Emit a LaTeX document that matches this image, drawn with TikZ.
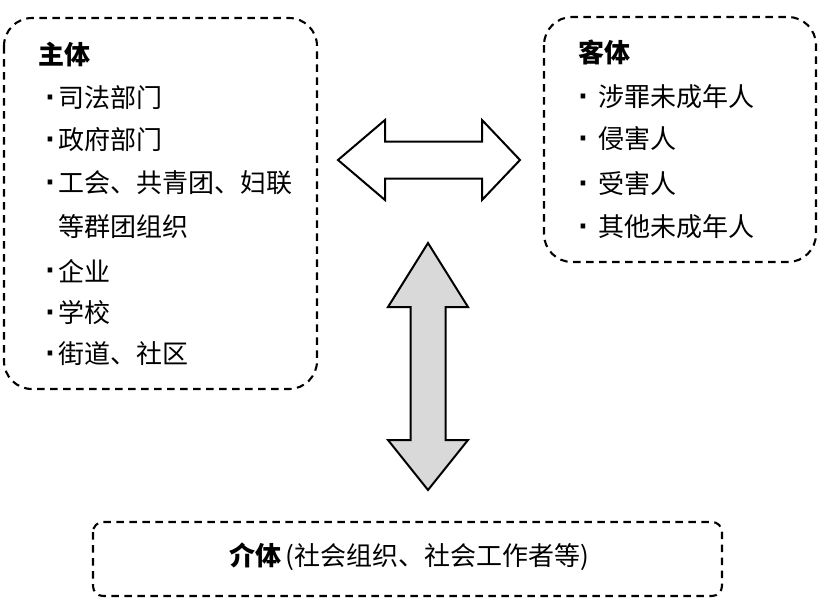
\documentclass[tikz,border=0pt]{standalone}
\usepackage{fontspec}
\newfontfamily\cjk{Noto Sans CJK SC}
\newfontfamily\dvs{DejaVu Sans}
\begin{document}
\begin{tikzpicture}[x=1pt,y=-1pt,
  dbox/.style={draw=black, line width=2.1pt, dash pattern=on 7.5pt off 5.5pt, rounded corners=28pt},
  head/.style={anchor=west, inner sep=0pt, font=\cjk\fontsize{26}{30}\selectfont\bfseries},
  item/.style={anchor=west, inner sep=0pt, font=\cjk\fontsize{26}{30}\selectfont},
  dot/.style={anchor=base, inner sep=0pt, font=\dvs\fontsize{26}{30}\selectfont\bfseries},
  arr/.style={draw=black, line width=2pt, line join=miter}]
\useasboundingbox (0,0) rectangle (822,606);
% boxes
\draw[dbox] (4,18) rectangle (317,389);
\draw[dbox] (544,17) rectangle (816,262);
\draw[dbox, rounded corners=10pt] (93,522) rectangle (722,596);
% left text
\node[head] (zt) at (38,55) {主体};
\node[dot] (b1) at (50,106) {·};
\node[item] (l1) at (58,98) {司法部门};
\node[dot] (b2) at (50,148) {·};
\node[item] (l2) at (58,140) {政府部门};
\node[dot] (b3) at (50,191) {·};
\node[item] (l3) at (58,183) {工会、共青团、妇联};
\node[item] (l4) at (58,227) {等群团组织};
\node[dot] (b5) at (50,279) {·};
\node[item] (l5) at (58,271) {企业};
\node[dot] (b6) at (50,321) {·};
\node[item] (l6) at (58,313) {学校};
\node[dot] (b7) at (50,362) {·};
\node[item] (l7) at (58,354) {街道、社区};
% right text
\node[head] (kt) at (578,52) {客体};
\node[dot] (c1) at (583,105) {·};
\node[item] (r1) at (598,97) {涉罪未成年人};
\node[dot] (c2) at (583,147) {·};
\node[item] (r2) at (598,139) {侵害人};
\node[dot] (c3) at (583,192) {·};
\node[item] (r3) at (598,184) {受害人};
\node[dot] (c4) at (583,235) {·};
\node[item] (r4) at (598,227) {其他未成年人};
% bottom text
\node[inner sep=0pt, font=\cjk\fontsize{26}{30}\selectfont] (jt) at (409,557) {{\bfseries 介体}\,(社会组织、社会工作者等)};
% horizontal arrow
\draw[arr, fill=white] (338,160) -- (385,120) -- (385,141.5) -- (482,141.5) -- (482,120)
  -- (520,160) -- (482,200) -- (482,178.5) -- (385,178.5) -- (385,200) -- cycle;
% vertical arrow
\draw[arr, fill=black!15] (428,243) -- (468,307) -- (445.5,307) -- (445.5,440) -- (468,440)
  -- (428,490) -- (388,440) -- (410.5,440) -- (410.5,307) -- (388,307) -- cycle;
\end{tikzpicture}
\end{document}
